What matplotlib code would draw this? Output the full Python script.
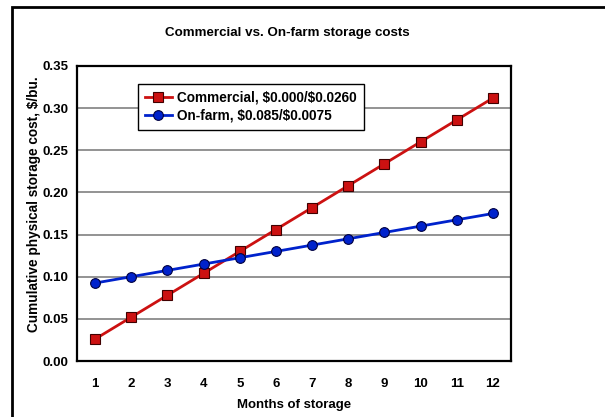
import matplotlib
matplotlib.use('Agg')
import matplotlib.pyplot as plt
from matplotlib.patches import Rectangle

plt.rcParams['font.family'] = ['Liberation Sans', 'DejaVu Sans']
plt.rcParams['font.weight'] = 'bold'

# cumulative cost per bushel by month of storage
months = [1, 2, 3, 4, 5, 6, 7, 8, 9, 10, 11, 12]
commercial = [0.026, 0.052, 0.078, 0.104, 0.130, 0.156, 0.182, 0.208, 0.234, 0.260, 0.286, 0.312]
on_farm = [0.0925, 0.100, 0.1075, 0.115, 0.1225, 0.130, 0.1375, 0.145, 0.1525, 0.160, 0.1675, 0.175]
labels = [r'Commercial, \$0.000/\$0.0260', r'On-farm, \$0.085/\$0.0075']
y_ticks = [0.00, 0.05, 0.10, 0.15, 0.20, 0.25, 0.30, 0.35]

W, H = 605, 417
fig = plt.figure(figsize=(W / 100, H / 100), dpi=100)

# outer chart frame
fig.patches.append(Rectangle((12 / W, -0.05), 1.0, (H - 7) / H + 0.05, transform=fig.transFigure,
                             fill=False, edgecolor='black', linewidth=2.0))

ax = fig.add_axes([77 / W, 1 - 361 / H, (511 - 77) / W, (361 - 66) / H])

ax.plot(months, commercial, color='#CC1111', linewidth=2.0, marker='s', markersize=7,
        markerfacecolor='#CC1111', markeredgecolor='#400000', markeredgewidth=0.8, label=labels[0], zorder=3)
ax.plot(months, on_farm, color='#0022CC', linewidth=2.0, marker='o', markersize=7,
        markerfacecolor='#0022CC', markeredgecolor='#000040', markeredgewidth=0.8, label=labels[1], zorder=3)

ax.set_xlim(0.5, 12.5)
ax.set_ylim(0, 0.35)
ax.set_xticks(months)
ax.set_yticks(y_ticks)
ax.set_yticklabels(['%.2f' % v for v in y_ticks])
ax.tick_params(axis='both', length=0, labelsize=9.5)
ax.tick_params(axis='y', pad=6)
ax.tick_params(axis='x', pad=12)
ax.yaxis.grid(True, color='#808080', linewidth=1.2)
ax.set_axisbelow(True)
for s in ax.spines.values():
    s.set_linewidth(1.6)

ax.set_xlabel('Months of storage', fontsize=9.5, fontweight='bold', labelpad=7)
ax.set_ylabel(r'Cumulative physical storage cost, \$/bu.', fontsize=9.8, fontweight='bold')
ax.yaxis.set_label_coords((41 - 77) / (511 - 77), 0.53)
fig.text(287 / W, 1 - 33 / H, 'Commercial vs. On-farm storage costs',
         ha='center', va='center', fontsize=9.6, fontweight='bold')

leg = ax.legend(loc='upper left', bbox_to_anchor=((138 - 77) / (511 - 77), 1 - (84 - 66) / (361 - 66)),
                fontsize=9.8, frameon=True, fancybox=False, framealpha=1, edgecolor='black',
                handlelength=2.0, handletextpad=0.4, borderpad=0.5, labelspacing=0.3, borderaxespad=0)
leg.get_frame().set_linewidth(1.0)

fig.savefig('out.png', dpi=100)
